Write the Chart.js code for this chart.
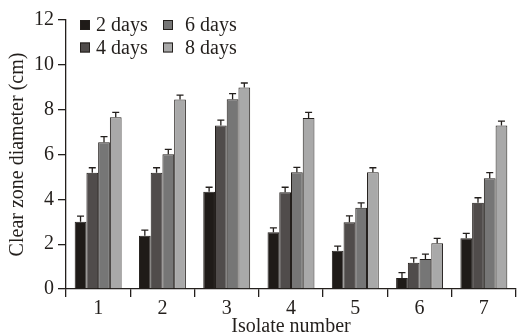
<!DOCTYPE html>
<html>
<head>
<meta charset="utf-8">
<script src="https://cdn.jsdelivr.net/npm/chart.js@4/dist/chart.umd.min.js"></script>
<style>
    html, body { margin: 0; padding: 0; background: #fff; }
    #wrap { width: 519px; height: 335px; }
</style>
</head>
<body>
<div id="wrap"><canvas id="grafico"></canvas></div>
<script>
// Dados
const isolados = ['1', '2', '3', '4', '5', '6', '7'];
const dias2 = [3.00, 2.38, 4.34, 2.53, 1.71, 0.49, 2.26];
const dias4 = [5.19, 5.19, 7.29, 4.32, 2.98, 1.17, 3.85];
const dias6 = [6.55, 6.01, 8.47, 5.21, 3.62, 1.34, 4.94];
const dias8 = [7.66, 8.45, 8.99, 7.63, 5.21, 2.04, 7.29];
const erro2 = [0.25, 0.25, 0.20, 0.20, 0.20, 0.24, 0.22];
const erro4 = [0.22, 0.22, 0.24, 0.22, 0.28, 0.22, 0.22];
const erro6 = [0.25, 0.22, 0.25, 0.22, 0.22, 0.22, 0.25];
const erro8 = [0.22, 0.20, 0.20, 0.25, 0.20, 0.22, 0.20];
const yTicks = [0, 2, 4, 6, 8, 10, 12];

const fonte = { family: "'Liberation Serif', 'DejaVu Serif', serif", size: 20 };
const corTexto = '#231f1c';
const corBorda = '#231f1c';

/**
 * Barras de erro desenhadas a partir das escalas do Chart.js
 */
const barrasErro = {
    id: 'barrasErro',
    afterDatasetsDraw(chart) {
        const ctx = chart.ctx;
        const y = chart.scales.y;
        ctx.save();
        ctx.strokeStyle = corBorda;
        ctx.lineWidth = 1.3;
        chart.data.datasets.forEach((ds, i) => {
            const meta = chart.getDatasetMeta(i);
            meta.data.forEach((bar, j) => {
                const topo = y.getPixelForValue(ds.data[j] + ds.erros[j]);
                ctx.beginPath();
                ctx.moveTo(bar.x, bar.y);
                ctx.lineTo(bar.x, topo);
                ctx.moveTo(bar.x - 3.5, topo);
                ctx.lineTo(bar.x + 3.5, topo);
                ctx.stroke();
            });
        });
        ctx.restore();
    }
};

/**
 * Legenda em duas colunas no canto superior esquerdo
 */
const legendaColunas = {
    id: 'legendaColunas',
    afterDraw(chart) {
        const ctx = chart.ctx;
        const ordem = [[0, 2], [1, 3]]; // linhas: [2 dias, 6 dias], [4 dias, 8 dias]
        const colX = [80, 163];
        const textoX = [96, 185];
        const linhaY = [25, 47.5];
        ctx.save();
        ctx.font = `${fonte.size}px ${fonte.family}`;
        ctx.textBaseline = 'middle';
        ordem.forEach((linha, r) => {
            linha.forEach((idx, c) => {
                const ds = chart.data.datasets[idx];
                ctx.fillStyle = ds.backgroundColor;
                ctx.fillRect(colX[c], linhaY[r] - 5, 10, 10);
                ctx.strokeStyle = corBorda;
                ctx.lineWidth = 1;
                ctx.strokeRect(colX[c] + 0.5, linhaY[r] - 4.5, 9, 9);
                ctx.fillStyle = corTexto;
                ctx.fillText(ds.label, textoX[c], linhaY[r] + 1);
            });
        });
        ctx.restore();
    }
};

const serie = (label, data, erros, cor) => ({
    label, data, erros,
    backgroundColor: cor,
    borderColor: corBorda,
    borderWidth: 1,
    categoryPercentage: 0.73,
    barPercentage: 1.0
});

new Chart(document.getElementById('grafico'), {
    type: 'bar',
    data: {
        labels: isolados,
        datasets: [
            serie('2 days', dias2, erro2, '#1f1b18'),
            serie('4 days', dias4, erro4, '#504c4b'),
            serie('6 days', dias6, erro6, '#767676'),
            serie('8 days', dias8, erro8, '#a9a9a9')
        ]
    },
    options: {
        responsive: true,
        maintainAspectRatio: false,
        animation: false,
        layout: { padding: { top: 20, right: 3, left: 0, bottom: 0 } },
        plugins: {
            legend: { display: false },
            tooltip: { enabled: false }
        },
        scales: {
            x: {
                grid: {
                    offset: true,
                    drawOnChartArea: false,
                    drawTicks: true,
                    tickLength: 8,
                    color: corBorda,
                    lineWidth: 1.3
                },
                border: { color: corBorda, width: 1.3 },
                ticks: { color: corTexto, font: fonte, padding: 0 },
                title: {
                    display: true,
                    text: 'Isolate number',
                    color: corTexto,
                    font: fonte,
                    padding: { top: 0, bottom: -4 }
                },
                afterFit: scale => { scale.height = 46; }
            },
            y: {
                min: 0,
                max: 12,
                afterBuildTicks: scale => { scale.ticks = yTicks.map(v => ({ value: v })); },
                grid: {
                    drawOnChartArea: false,
                    drawTicks: true,
                    tickLength: 8,
                    color: corBorda,
                    lineWidth: 1.3
                },
                border: { color: corBorda, width: 1.3 },
                ticks: { color: corTexto, font: fonte, padding: 4 },
                title: {
                    display: true,
                    text: 'Clear zone diameter (cm)',
                    color: corTexto,
                    font: fonte,
                    padding: { top: 6, bottom: 4 }
                },
                afterFit: scale => { scale.width = 66; }
            }
        }
    },
    plugins: [barrasErro, legendaColunas]
});
</script>
</body>
</html>
